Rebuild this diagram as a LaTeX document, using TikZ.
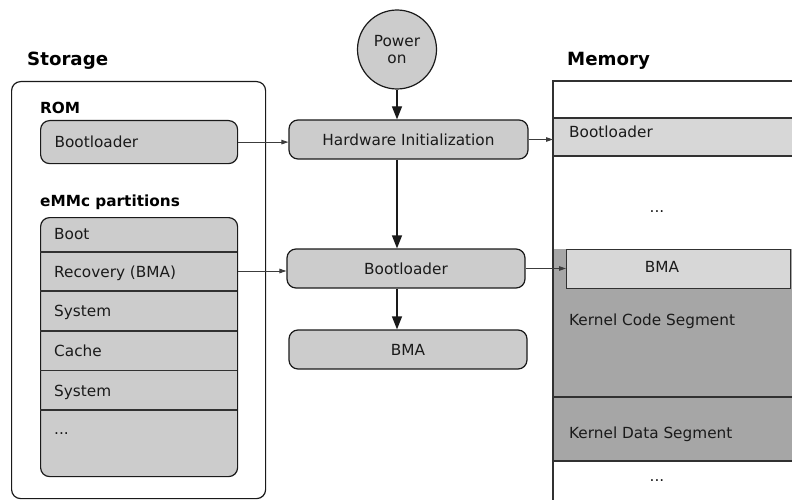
\documentclass[tikz,border=0pt]{standalone}
\usepackage{fontspec}
\setmainfont{DejaVu Sans}
\usetikzlibrary{arrows.meta}
\definecolor{boxgray}{HTML}{CCCCCC}
\definecolor{memlight}{HTML}{D7D7D7}
\definecolor{kernelgray}{HTML}{A6A6A6}
\definecolor{edge}{HTML}{1A1A1A}

\begin{document}
\begin{tikzpicture}[x=1pt,y=-1pt,
  txt/.style={font=\fontsize{15.3}{18}\selectfont, inner sep=0pt,
    text height=11pt, text depth=3.5pt, text=edge},
  lefttxt/.style={txt, anchor=west},
  head/.style={font=\fontsize{18.2}{21}\selectfont\bfseries, inner sep=0pt, anchor=west},
  subhead/.style={font=\fontsize{15.3}{18}\selectfont\bfseries, inner sep=0pt, anchor=west},
  box/.style={draw=edge, line width=1.2pt, fill=boxgray, rounded corners=9pt,
    inner sep=0pt, font=\fontsize{15.3}{18}\selectfont, text=edge},
  flow/.style={draw=edge, line width=1.2pt, -{Triangle[length=13pt,width=10pt]}},
  link/.style={draw=edge!85, line width=1pt, -{Triangle[length=7pt,width=4.5pt]}},
  rule/.style={draw=edge!90, line width=1.1pt},
]
\useasboundingbox (0,0) rectangle (792,500);

% ---------- Storage ----------
\node[head] (storagehead) at (27,61) {Storage};
\node[draw=edge, line width=1.2pt, rounded corners=9pt, minimum width=254pt,
  minimum height=417pt, anchor=north west] (storage) at (11,81) {};

\node[subhead] (romhead) at (40,108) {ROM};
\node[box, anchor=north west, minimum width=197pt, minimum height=43pt,
  text width=169pt, inner xsep=14pt, align=left] (romboot) at (40,120) {Bootloader};

\node[subhead] (emmchead) at (40,202) {eMMc partitions};
\node[box, anchor=north west, minimum width=197pt, minimum height=259pt] (parts) at (40,217) {};
\foreach \yy in {252,291,331,370.5,410}
  \draw[rule] (40,\yy) -- (237,\yy);
\node[lefttxt] (pboot) at (54,235.5) {Boot};
\node[lefttxt] (prec) at (54,274) {Recovery (BMA)};
\node[lefttxt] (psys) at (54,313) {System};
\node[lefttxt] (pcache) at (54,353) {Cache};
\node[lefttxt] (psys2) at (54,392.5) {System};
\node[lefttxt] (pmore) at (54,431) {...};
\coordinate (recmid) at (40,271);

% ---------- Boot flow ----------
\node[circle, draw=edge, line width=1.2pt, fill=boxgray, minimum size=79pt, inner sep=0pt,
  align=center, font=\fontsize{15.3}{17.5}\selectfont, text=edge] (power) at (397,49.5) {Power\\on};
\node[box, minimum width=239pt, minimum height=39pt] (hw) at (408.5,139.5) {Hardware Initialization};
\node[box, minimum width=238pt, minimum height=39pt] (boot) at (406,268.5) {Bootloader};
\node[box, minimum width=238pt, minimum height=39pt] (bmabox) at (408,349.5) {BMA};

% ---------- Memory ----------
\node[head] (memhead) at (567,61) {Memory};
\coordinate (memtop) at (553,81);
\fill[memlight] (553,118) rectangle (792,156);
\fill[kernelgray] (553,249) rectangle (792,461);
\foreach \yy in {118,156,397,461}
  \draw[rule] (553,\yy) -- (792,\yy);
\draw[rule] (792,81) -- (memtop) -- (553,500);
\node[draw=edge!90, fill=memlight, line width=1.1pt, minimum width=224pt, minimum height=39pt,
  inner sep=0pt, anchor=north west] (bma) at (566,249) {};
\node[txt] (bmatext) at (662,268.5) {BMA};
\node[lefttxt] (membl) at (569,133.5) {Bootloader};
\node[txt] (memdots) at (657,209) {...};
\node[lefttxt] (kcode) at (569,322) {Kernel Code Segment};
\node[lefttxt] (kdata) at (569,435) {Kernel Data Segment};
\node[txt] (memdots2) at (657,478) {...};

% ---------- Connectors ----------
\draw[flow] (power) -- (power |- hw.north);
\draw[flow] (hw.south -| power) -- (boot.north -| power);
\draw[flow] (boot.south -| power) -- (bmabox.north -| power);

\draw[link] (romboot.east) -- (romboot.east -| hw.west);
\draw[link] (parts.east |- recmid) -- (recmid -| boot.west);
\draw[link] (hw.east) -- (hw.east -| memtop);
\draw[link] (boot.east) -- (boot.east -| bma.west);
\end{tikzpicture}
\end{document}
